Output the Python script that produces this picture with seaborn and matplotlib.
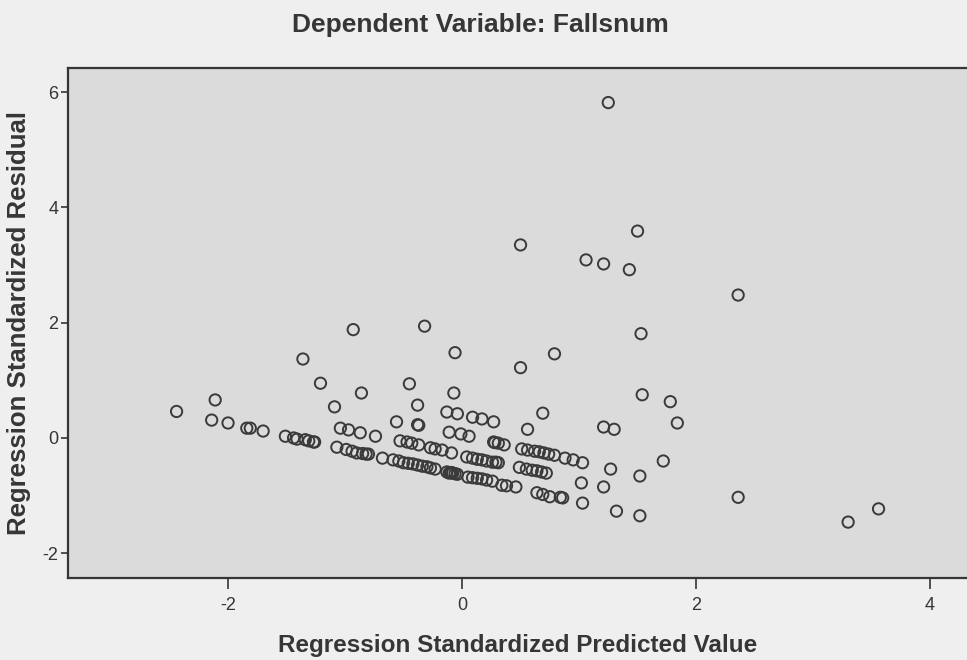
import matplotlib
matplotlib.use("Agg")
import matplotlib.pyplot as plt
from matplotlib import font_manager
import seaborn as sns
import pandas as pd

# Standardized predicted values and standardized residuals
pred = [
    1.25, 0.50, 1.06, 1.21, 1.50, 1.43, 2.36, -0.93, -0.32, 1.53,
    -0.06, 0.79, -1.36, -1.21, -0.45, 0.50, -0.86, -0.07, 1.54, -1.09,
    -0.38, 0.69, 1.78, 1.84,
    -2.44, -2.11, -2.14, -2.00, -1.84, -1.81, -1.70, -1.51, -1.44, -1.41,
    -1.34, -1.31, -1.27, -1.26,
    -1.04, -0.97, -0.87, -0.74, -0.56, -0.38, -0.37, -0.13, -0.04, 0.09,
    0.17, 0.27, -0.11, -0.01, 0.06, 0.56, 1.21, 1.30,
    -0.53, -0.47, -0.43, -0.37, -0.27, -0.23, -0.17, -0.09, 0.27, 0.28,
    0.31, 0.36, 0.51, 0.56, 0.62, 0.66, 0.70, 0.74, 0.79, 0.88, 0.95, 1.03,
    -1.07, -0.99, -0.94, -0.90, -0.85, -0.82, -0.80, -0.68,
    -0.59, -0.54, -0.50, -0.46, -0.42, -0.38, -0.34, -0.30, -0.27, -0.23,
    -0.13, -0.11, -0.10, -0.09, -0.08, -0.06, -0.04,
    0.05, 0.09, 0.13, 0.17, 0.21, 0.26, 0.34, 0.38, 0.46,
    0.04, 0.09, 0.13, 0.17, 0.21, 0.26, 0.29, 0.31,
    0.49, 0.55, 0.60, 0.64, 0.68, 0.72, 1.27,
    0.64, 0.69, 0.75, 0.84, 0.86,
    1.02, 1.21, 1.03, 1.32, 1.52, 1.52, 1.72,
    2.36, 3.30, 3.56,
]
resid = [
    5.82, 3.35, 3.09, 3.02, 3.59, 2.92, 2.48, 1.88, 1.94, 1.81,
    1.48, 1.46, 1.37, 0.95, 0.94, 1.22, 0.78, 0.78, 0.75, 0.54,
    0.57, 0.43, 0.63, 0.26,
    0.46, 0.66, 0.31, 0.26, 0.17, 0.17, 0.12, 0.03, 0.00, -0.02,
    -0.03, -0.05, -0.07, -0.07,
    0.17, 0.14, 0.09, 0.03, 0.28, 0.23, 0.22, 0.45, 0.42, 0.36,
    0.33, 0.28, 0.10, 0.07, 0.03, 0.15, 0.19, 0.15,
    -0.05, -0.07, -0.09, -0.12, -0.17, -0.19, -0.21, -0.26, -0.07, -0.08,
    -0.09, -0.12, -0.19, -0.21, -0.23, -0.24, -0.26, -0.28, -0.30, -0.35, -0.38, -0.43,
    -0.16, -0.20, -0.23, -0.26, -0.27, -0.28, -0.28, -0.35,
    -0.38, -0.40, -0.43, -0.44, -0.45, -0.47, -0.49, -0.50, -0.52, -0.54,
    -0.59, -0.61, -0.60, -0.60, -0.61, -0.62, -0.63,
    -0.68, -0.69, -0.70, -0.71, -0.73, -0.75, -0.82, -0.83, -0.85,
    -0.33, -0.35, -0.37, -0.38, -0.40, -0.42, -0.42, -0.43,
    -0.51, -0.54, -0.56, -0.57, -0.59, -0.61, -0.54,
    -0.95, -0.98, -1.02, -1.03, -1.04,
    -0.78, -0.85, -1.13, -1.27, -1.35, -0.66, -0.40,
    -1.03, -1.46, -1.23,
]

x_ticks = [-2, 0, 2, 4]
y_ticks = [-2, 0, 2, 4, 6]
title = "Dependent Variable: Fallsnum"
x_label = "Regression Standardized Predicted Value"
y_label = "Regression Standardized Residual"

df = pd.DataFrame({"pred": pred, "resid": resid})

sns.set_theme(style="white")
installed = {f.name for f in font_manager.fontManager.ttflist}
narrow = "Liberation Sans Narrow" if "Liberation Sans Narrow" in installed else "Liberation Sans"
plt.rcParams["font.family"] = [narrow, "DejaVu Sans"]

ink = "#363636"
fig = plt.figure(figsize=(9.67, 6.60), dpi=100, facecolor="#efefef")
ax = fig.add_axes([68 / 967, 82 / 660, 1 - 68 / 967, 510 / 660])
ax.set_facecolor("#dbdbdb")

sns.scatterplot(
    data=df, x="pred", y="resid", ax=ax,
    marker="o", s=66, facecolor="none", edgecolor="#3a3a3a", linewidth=1.4,
    legend=False,
)

ax.set_xlim(-3.368, 4.316)
ax.set_ylim(-2.43, 6.42)
ax.set_xticks(x_ticks)
ax.set_yticks(y_ticks)
ax.set_xticklabels([str(v) for v in x_ticks])
ax.set_yticklabels([str(v) for v in y_ticks])

for side in ("left", "bottom", "top"):
    ax.spines[side].set_visible(True)
    ax.spines[side].set_color(ink)
    ax.spines[side].set_linewidth(1.6)
ax.spines["right"].set_visible(False)

ax.tick_params(axis="x", direction="out", length=8, width=1.2, color=ink,
               labelsize=13, labelcolor=ink, pad=6, bottom=True)
ax.tick_params(axis="y", direction="out", length=5, width=1.2, color=ink,
               labelsize=13, labelcolor=ink, pad=2, left=True)

ax.set_xlabel(x_label, fontsize=17.5, fontweight="bold", color=ink, labelpad=14)
ax.set_ylabel(y_label, fontsize=18.5, fontweight="bold", color=ink, labelpad=8)
fig.text(480 / 967, 1 - 25 / 660, title, ha="center", va="center",
         fontsize=19, fontweight="bold", color=ink)

fig.savefig("out.png", dpi=100, facecolor=fig.get_facecolor())
